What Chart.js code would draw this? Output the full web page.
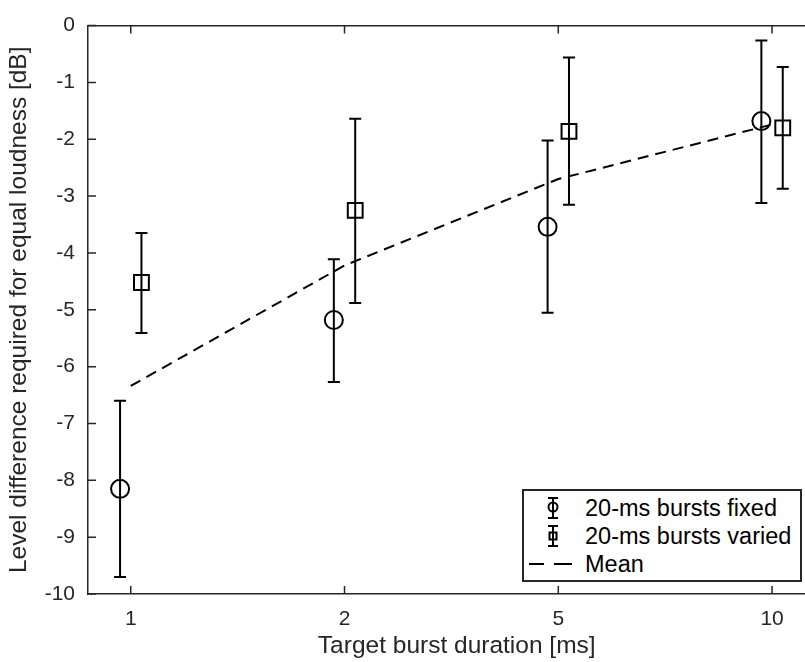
<!DOCTYPE html>
<html>
<head>
<meta charset="utf-8">
<script src="https://cdn.jsdelivr.net/npm/chart.js@4.4.0/dist/chart.umd.min.js"></script>
<style>
  html, body { margin: 0; padding: 0; background: #fff; overflow: hidden; }
  /* the original figure is cut off on the right, so the canvas is wider than the window */
  #wrap { position: relative; width: 805px; height: 662px; overflow: hidden; }
  #legend {
    position: absolute; left: 522px; top: 489px; width: 276px; height: 89px;
    border: 2px solid #262626; background: #fff;
    font-family: "Liberation Sans", Arial, sans-serif; font-size: 23.5px; color: #000;
  }
  #legend .row { position: absolute; left: 0; width: 276px; height: 28px; line-height: 28px; }
  #legend .row span { position: absolute; left: 61px; white-space: nowrap; }
  #legend svg { position: absolute; left: 0; top: 0; }
</style>
</head>
<body>
<div id="wrap">
  <canvas id="chart" width="838" height="662"></canvas>
  <div id="legend">
    <div class="row" style="top:3px">
      <svg width="58" height="28"><g stroke="#000" stroke-width="2" fill="none">
        <line x1="29" y1="4" x2="29" y2="24"/><line x1="24" y1="4" x2="34" y2="4"/><line x1="24" y1="24" x2="34" y2="24"/>
        <circle cx="29" cy="13" r="4.5"/></g></svg>
      <span>20-ms bursts fixed</span>
    </div>
    <div class="row" style="top:31px">
      <svg width="58" height="28"><g stroke="#000" stroke-width="2" fill="none">
        <line x1="29" y1="4" x2="29" y2="24"/><line x1="24" y1="4" x2="34" y2="4"/><line x1="24" y1="24" x2="34" y2="24"/>
        <rect x="25.5" y="10.5" width="7" height="7"/></g></svg>
      <span>20-ms bursts varied</span>
    </div>
    <div class="row" style="top:59px">
      <svg width="58" height="28"><g stroke="#000" stroke-width="2" fill="none">
        <line x1="5" y1="14" x2="20" y2="14"/><line x1="30" y1="14" x2="48" y2="14"/></g></svg>
      <span>Mean</span>
    </div>
  </div>
</div>
<script>
// target burst durations (ms), evenly spaced categories on the x axis
var durations = ['1', '2', '5', '10'];

// 20-ms bursts fixed
var fixedMean = [-8.15, -5.18, -3.54, -1.68];
var fixedLow  = [-9.70, -6.27, -5.05, -3.12];
var fixedHigh = [-6.60, -4.11, -2.02, -0.26];

// 20-ms bursts varied
var variedMean = [-4.52, -3.25, -1.86, -1.80];
var variedLow  = [-5.41, -4.88, -3.15, -2.87];
var variedHigh = [-3.65, -1.64, -0.56, -0.73];

// mean of both conditions
var meanLine = [-6.34, -4.22, -2.70, -1.74];

var yTicks = [0, -1, -2, -3, -4, -5, -6, -7, -8, -9, -10];

var axisColor = '#262626';
var fontFamily = '"Liberation Sans", Arial, sans-serif';
var dodge = 0.05; // horizontal shift so the two conditions don't overlap

function points(vals, shift) {
  return vals.map(function (v, i) { return { x: i + shift, y: v }; });
}

// vertical error bars with caps
var errorBars = {
  id: 'errorBars',
  beforeDatasetsDraw: function (chart) {
    var ctx = chart.ctx;
    var xs = chart.scales.x, ys = chart.scales.y;
    chart.data.datasets.forEach(function (ds) {
      if (!ds.low) return;
      ctx.save();
      ctx.strokeStyle = '#000';
      ctx.lineWidth = 2;
      ds.data.forEach(function (p, i) {
        var px = xs.getPixelForValue(p.x);
        var lo = ys.getPixelForValue(ds.low[i]);
        var hi = ys.getPixelForValue(ds.high[i]);
        ctx.beginPath();
        ctx.moveTo(px, lo); ctx.lineTo(px, hi);
        ctx.moveTo(px - 6, lo); ctx.lineTo(px + 6, lo);
        ctx.moveTo(px - 6, hi); ctx.lineTo(px + 6, hi);
        ctx.stroke();
      });
      ctx.restore();
    });
  }
};

// matlab style inward tick marks
var inwardTicks = {
  id: 'inwardTicks',
  afterDraw: function (chart) {
    var ctx = chart.ctx;
    var a = chart.chartArea;
    var xs = chart.scales.x, ys = chart.scales.y;
    ctx.save();
    ctx.strokeStyle = axisColor;
    ctx.lineWidth = 1.5;
    ctx.beginPath();
    xs.ticks.forEach(function (t) {
      var px = xs.getPixelForValue(t.value);
      ctx.moveTo(px, a.bottom); ctx.lineTo(px, a.bottom - 8);
      ctx.moveTo(px, a.top); ctx.lineTo(px, a.top + 8);
    });
    ys.ticks.forEach(function (t) {
      var py = ys.getPixelForValue(t.value);
      ctx.moveTo(a.left, py); ctx.lineTo(a.left + 8, py);
    });
    ctx.stroke();
    ctx.restore();
  }
};

var ctx = document.getElementById('chart');

var chart = new Chart(ctx, {
  type: 'scatter',
  data: {
    datasets: [
      {
        label: '20-ms bursts fixed',
        data: points(fixedMean, -dodge),
        low: fixedLow,
        high: fixedHigh,
        pointStyle: 'circle',
        pointRadius: 9,
        pointBorderWidth: 2,
        borderColor: '#000',
        backgroundColor: 'rgba(0,0,0,0)'
      },
      {
        label: '20-ms bursts varied',
        data: points(variedMean, dodge),
        low: variedLow,
        high: variedHigh,
        pointStyle: 'rect',
        pointRadius: 10.5,
        pointBorderWidth: 2,
        borderColor: '#000',
        backgroundColor: 'rgba(0,0,0,0)'
      },
      {
        label: 'Mean',
        data: points(meanLine, 0),
        showLine: true,
        borderDash: [11, 7],
        borderWidth: 2,
        borderColor: '#000',
        pointRadius: 0
      }
    ]
  },
  options: {
    responsive: false,
    animation: false,
    layout: { padding: { left: 0, right: 0, top: 21, bottom: 0 } },
    plugins: {
      legend: { display: false },
      tooltip: { enabled: false }
    },
    scales: {
      x: {
        type: 'linear',
        position: 'bottom',
        min: -0.2,
        max: 3.25,
        afterBuildTicks: function (s) {
          s.ticks = durations.map(function (d, i) { return { value: i }; });
        },
        afterFit: function (s) {
          s.height = 68;
          s.paddingLeft = 0;
          s.paddingRight = 0;
        },
        ticks: {
          color: axisColor,
          padding: 13,
          maxRotation: 0,
          font: { family: fontFamily, size: 21 },
          callback: function (v) { return durations[v]; }
        },
        grid: { drawOnChartArea: false, drawTicks: false },
        border: { display: true, color: axisColor, width: 1.5 },
        title: {
          display: true,
          text: 'Target burst duration [ms]',
          color: axisColor,
          font: { family: fontFamily, size: 24.5 },
          padding: { top: 0, bottom: 1 }
        }
      },
      x2: {
        type: 'linear',
        position: 'top',
        min: -0.2,
        max: 3.25,
        afterFit: function (s) {
          s.height = 0;
          s.paddingLeft = 0;
          s.paddingRight = 0;
        },
        ticks: { display: false },
        grid: { drawOnChartArea: false, drawTicks: false },
        border: { display: true, color: axisColor, width: 1.5 }
      },
      y: {
        min: -10,
        max: 0,
        afterBuildTicks: function (s) {
          s.ticks = yTicks.map(function (v) { return { value: v }; });
        },
        afterFit: function (s) { s.width = 88; },
        ticks: {
          color: axisColor,
          padding: 13,
          font: { family: fontFamily, size: 21 }
        },
        grid: { drawOnChartArea: false, drawTicks: false },
        border: { display: true, color: axisColor, width: 1.5 },
        title: {
          display: true,
          text: 'Level difference required for equal loudness [dB]',
          color: axisColor,
          font: { family: fontFamily, size: 24.5 },
          padding: { top: 5, bottom: 0 }
        }
      }
    }
  },
  plugins: [errorBars, inwardTicks]
});
</script>
</body>
</html>
